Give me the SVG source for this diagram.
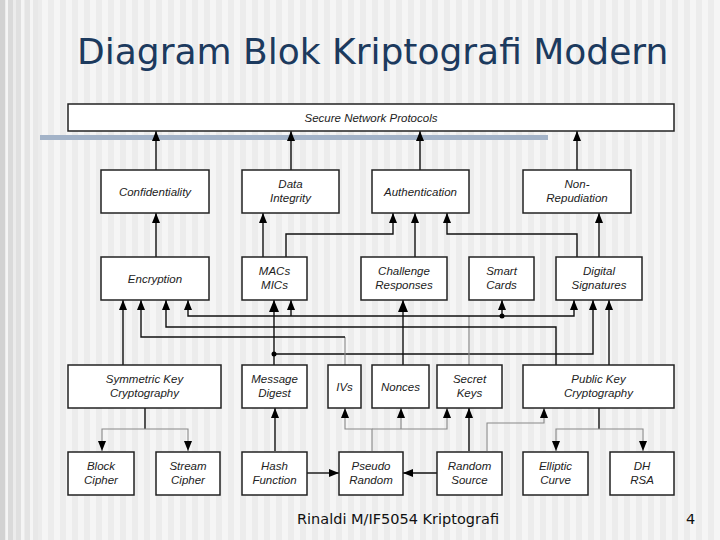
<svg xmlns="http://www.w3.org/2000/svg" width="720" height="540" viewBox="0 0 720 540">
<defs>
<pattern id="stripes" x="0" y="0" width="12" height="540" patternUnits="userSpaceOnUse">
<rect x="0" y="0" width="12" height="540" fill="#f5f5f5"/>
<rect x="0" y="0" width="6" height="540" fill="#ececec"/>
</pattern>
<marker id="ah" viewBox="0 0 10 8" refX="10" refY="4" markerWidth="10" markerHeight="8" markerUnits="userSpaceOnUse" orient="auto">
<path d="M0,0 L10,4 L0,8 z" fill="#000"/>
</marker>
<marker id="ahb" viewBox="0 0 12 10" refX="12" refY="5" markerWidth="12" markerHeight="10" markerUnits="userSpaceOnUse" orient="auto">
<path d="M0,0 L12,5 L0,10 z" fill="#000"/>
</marker>
</defs>
<style>
.box{fill:#fff;stroke:#222;stroke-width:1.5}
.lbl{font-family:"Liberation Sans",Arial,sans-serif;font-style:italic;font-size:11.5px;fill:#222;text-anchor:middle}
.c{fill:none;stroke:#111;stroke-width:1.4}
.g{fill:none;stroke:#888;stroke-width:1.1}
.a{marker-end:url(#ah)}
.ab{marker-end:url(#ahb)}
</style>
<rect x="0" y="0" width="720" height="540" fill="url(#stripes)"/>
<rect x="0" y="0" width="5" height="540" fill="#d2d2d2"/>
<rect x="8" y="0" width="5" height="540" fill="#dadada"/>
<rect x="16" y="0" width="5" height="540" fill="#e0e0e0"/>
<rect x="25" y="0" width="5" height="540" fill="#e4e4e4"/>
<rect x="33" y="0" width="5" height="540" fill="#e8e8e8"/>

<text x="77" y="64" font-family="DejaVu Sans, Verdana, sans-serif" font-size="36" fill="#1c3a5e">Diagram Blok Kriptografi Modern</text>

<rect x="40" y="135" width="508" height="5" fill="#a3b3c8"/>

<g id="connectors">
<path class="c a" d="M156,170 V131"/>
<path class="c a" d="M291,170 V131"/>
<path class="c a" d="M420,170 V131"/>
<path class="c a" d="M577,170 V131"/>
<path class="c a" d="M156,257 V213"/>
<path class="c a" d="M263,257 V213"/>
<path class="c a" d="M286,257 V234 H393 V213"/>
<path class="c a" d="M415,257 V213"/>
<path class="c a" d="M577,257 V234 H447 V213"/>
<path class="c a" d="M599,257 V213"/>
<path class="c a" d="M123,365 V300"/>
<path class="c ab" d="M274,365 V300"/>
<path class="c a" d="M274,354 H593 V300"/>
<circle cx="274" cy="354" r="2.5" fill="#000"/>
<path class="g" d="M469,365 V316"/>
<path class="c a" d="M469,316 H188 V300"/>
<path class="c a" d="M291,316 V300"/>
<path class="c a" d="M469,316 H574 V300"/>
<path class="c a" d="M502,316 V300"/>
<circle cx="502" cy="316" r="2.5" fill="#000"/>
<path class="c a" d="M556,365 V327 H166 V300"/>
<path class="g" d="M345,365 V337"/>
<path class="c a" d="M345,337 H141 V300"/>
<path class="c ab" d="M403,365 V300"/>
<path class="c a" d="M609,365 V300"/>
<path class="c" d="M145,408 V429"/>
<path class="g a" d="M145,429 H102 V451"/>
<path class="g a" d="M145,429 H188 V451"/>
<path class="c a" d="M275,451 V408"/>
<path class="c a" d="M307,473 H339"/>
<path class="c a" d="M437,473 H403"/>
<path class="g a" d="M372,451 V429 H345 V408"/>
<path class="g a" d="M372,429 H447 V408"/>
<path class="g a" d="M401,429 V408"/>
<path class="c a" d="M469,451 V408"/>
<path class="g a" d="M487,451 V423 H544 V408"/>
<path class="c" d="M599,408 V429"/>
<path class="g a" d="M599,429 H556 V451"/>
<path class="g a" d="M599,429 H643 V451"/>
</g>

<g id="n-snp"><rect class="box" x="68" y="104" width="606" height="27"/><text class="lbl" x="371" y="121.5" font-size="11">Secure Network Protocols</text></g>

<g id="n-conf"><rect class="box" x="101" y="170" width="108" height="43"/><text class="lbl" x="155" y="196">Confidentiality</text></g>
<g id="n-di"><rect class="box" x="242" y="170" width="97" height="43"/><text class="lbl" x="290.5" y="188">Data</text><text class="lbl" x="290.5" y="202">Integrity</text></g>
<g id="n-auth"><rect class="box" x="372" y="170" width="97" height="43"/><text class="lbl" x="420.5" y="196">Authentication</text></g>
<g id="n-nr"><rect class="box" x="523" y="170" width="108" height="43"/><text class="lbl" x="577" y="188">Non-</text><text class="lbl" x="577" y="202">Repudiation</text></g>

<g id="n-enc"><rect class="box" x="101" y="257" width="108" height="43"/><text class="lbl" x="155" y="283">Encryption</text></g>
<g id="n-mac"><rect class="box" x="242" y="257" width="65" height="43"/><text class="lbl" x="274.5" y="275">MACs</text><text class="lbl" x="274.5" y="289">MICs</text></g>
<g id="n-chal"><rect class="box" x="361" y="257" width="86" height="43"/><text class="lbl" x="404" y="275">Challenge</text><text class="lbl" x="404" y="289">Responses</text></g>
<g id="n-sc"><rect class="box" x="469" y="257" width="65" height="43"/><text class="lbl" x="501.5" y="275">Smart</text><text class="lbl" x="501.5" y="289">Cards</text></g>
<g id="n-ds"><rect class="box" x="556" y="257" width="86" height="43"/><text class="lbl" x="599" y="275">Digital</text><text class="lbl" x="599" y="289">Signatures</text></g>

<g id="n-skc"><rect class="box" x="68" y="365" width="153" height="43"/><text class="lbl" x="144.5" y="383">Symmetric Key</text><text class="lbl" x="144.5" y="397">Cryptography</text></g>
<g id="n-md"><rect class="box" x="242" y="365" width="65" height="43"/><text class="lbl" x="274.5" y="383">Message</text><text class="lbl" x="274.5" y="397">Digest</text></g>
<g id="n-ivs"><rect class="box" x="328" y="365" width="33" height="43"/><text class="lbl" x="344.5" y="391">IVs</text></g>
<g id="n-non"><rect class="box" x="372" y="365" width="57" height="43"/><text class="lbl" x="400.5" y="391">Nonces</text></g>
<g id="n-sk"><rect class="box" x="437" y="365" width="65" height="43"/><text class="lbl" x="469.5" y="383">Secret</text><text class="lbl" x="469.5" y="397">Keys</text></g>
<g id="n-pkc"><rect class="box" x="523" y="365" width="151" height="43"/><text class="lbl" x="598.5" y="383">Public Key</text><text class="lbl" x="598.5" y="397">Cryptography</text></g>

<g id="n-block"><rect class="box" x="68" y="452" width="66" height="43"/><text class="lbl" x="101" y="470">Block</text><text class="lbl" x="101" y="484">Cipher</text></g>
<g id="n-stream"><rect class="box" x="156" y="452" width="64" height="43"/><text class="lbl" x="188" y="470">Stream</text><text class="lbl" x="188" y="484">Cipher</text></g>
<g id="n-hash"><rect class="box" x="242" y="452" width="65" height="43"/><text class="lbl" x="274.5" y="470">Hash</text><text class="lbl" x="274.5" y="484">Function</text></g>
<g id="n-pr"><rect class="box" x="339" y="452" width="64" height="43"/><text class="lbl" x="371" y="470">Pseudo</text><text class="lbl" x="371" y="484">Random</text></g>
<g id="n-rs"><rect class="box" x="437" y="452" width="65" height="43"/><text class="lbl" x="469.5" y="470">Random</text><text class="lbl" x="469.5" y="484">Source</text></g>
<g id="n-ec"><rect class="box" x="523" y="452" width="65" height="43"/><text class="lbl" x="555.5" y="470">Elliptic</text><text class="lbl" x="555.5" y="484">Curve</text></g>
<g id="n-dh"><rect class="box" x="610" y="452" width="64" height="43"/><text class="lbl" x="642" y="470">DH</text><text class="lbl" x="642" y="484">RSA</text></g>

<text x="297" y="524" font-family="DejaVu Sans, Verdana, sans-serif" font-size="14.5" fill="#111">Rinaldi M/IF5054 Kriptografi</text>
<text x="686" y="524" font-family="DejaVu Sans, Verdana, sans-serif" font-size="14.5" fill="#111">4</text>
</svg>
